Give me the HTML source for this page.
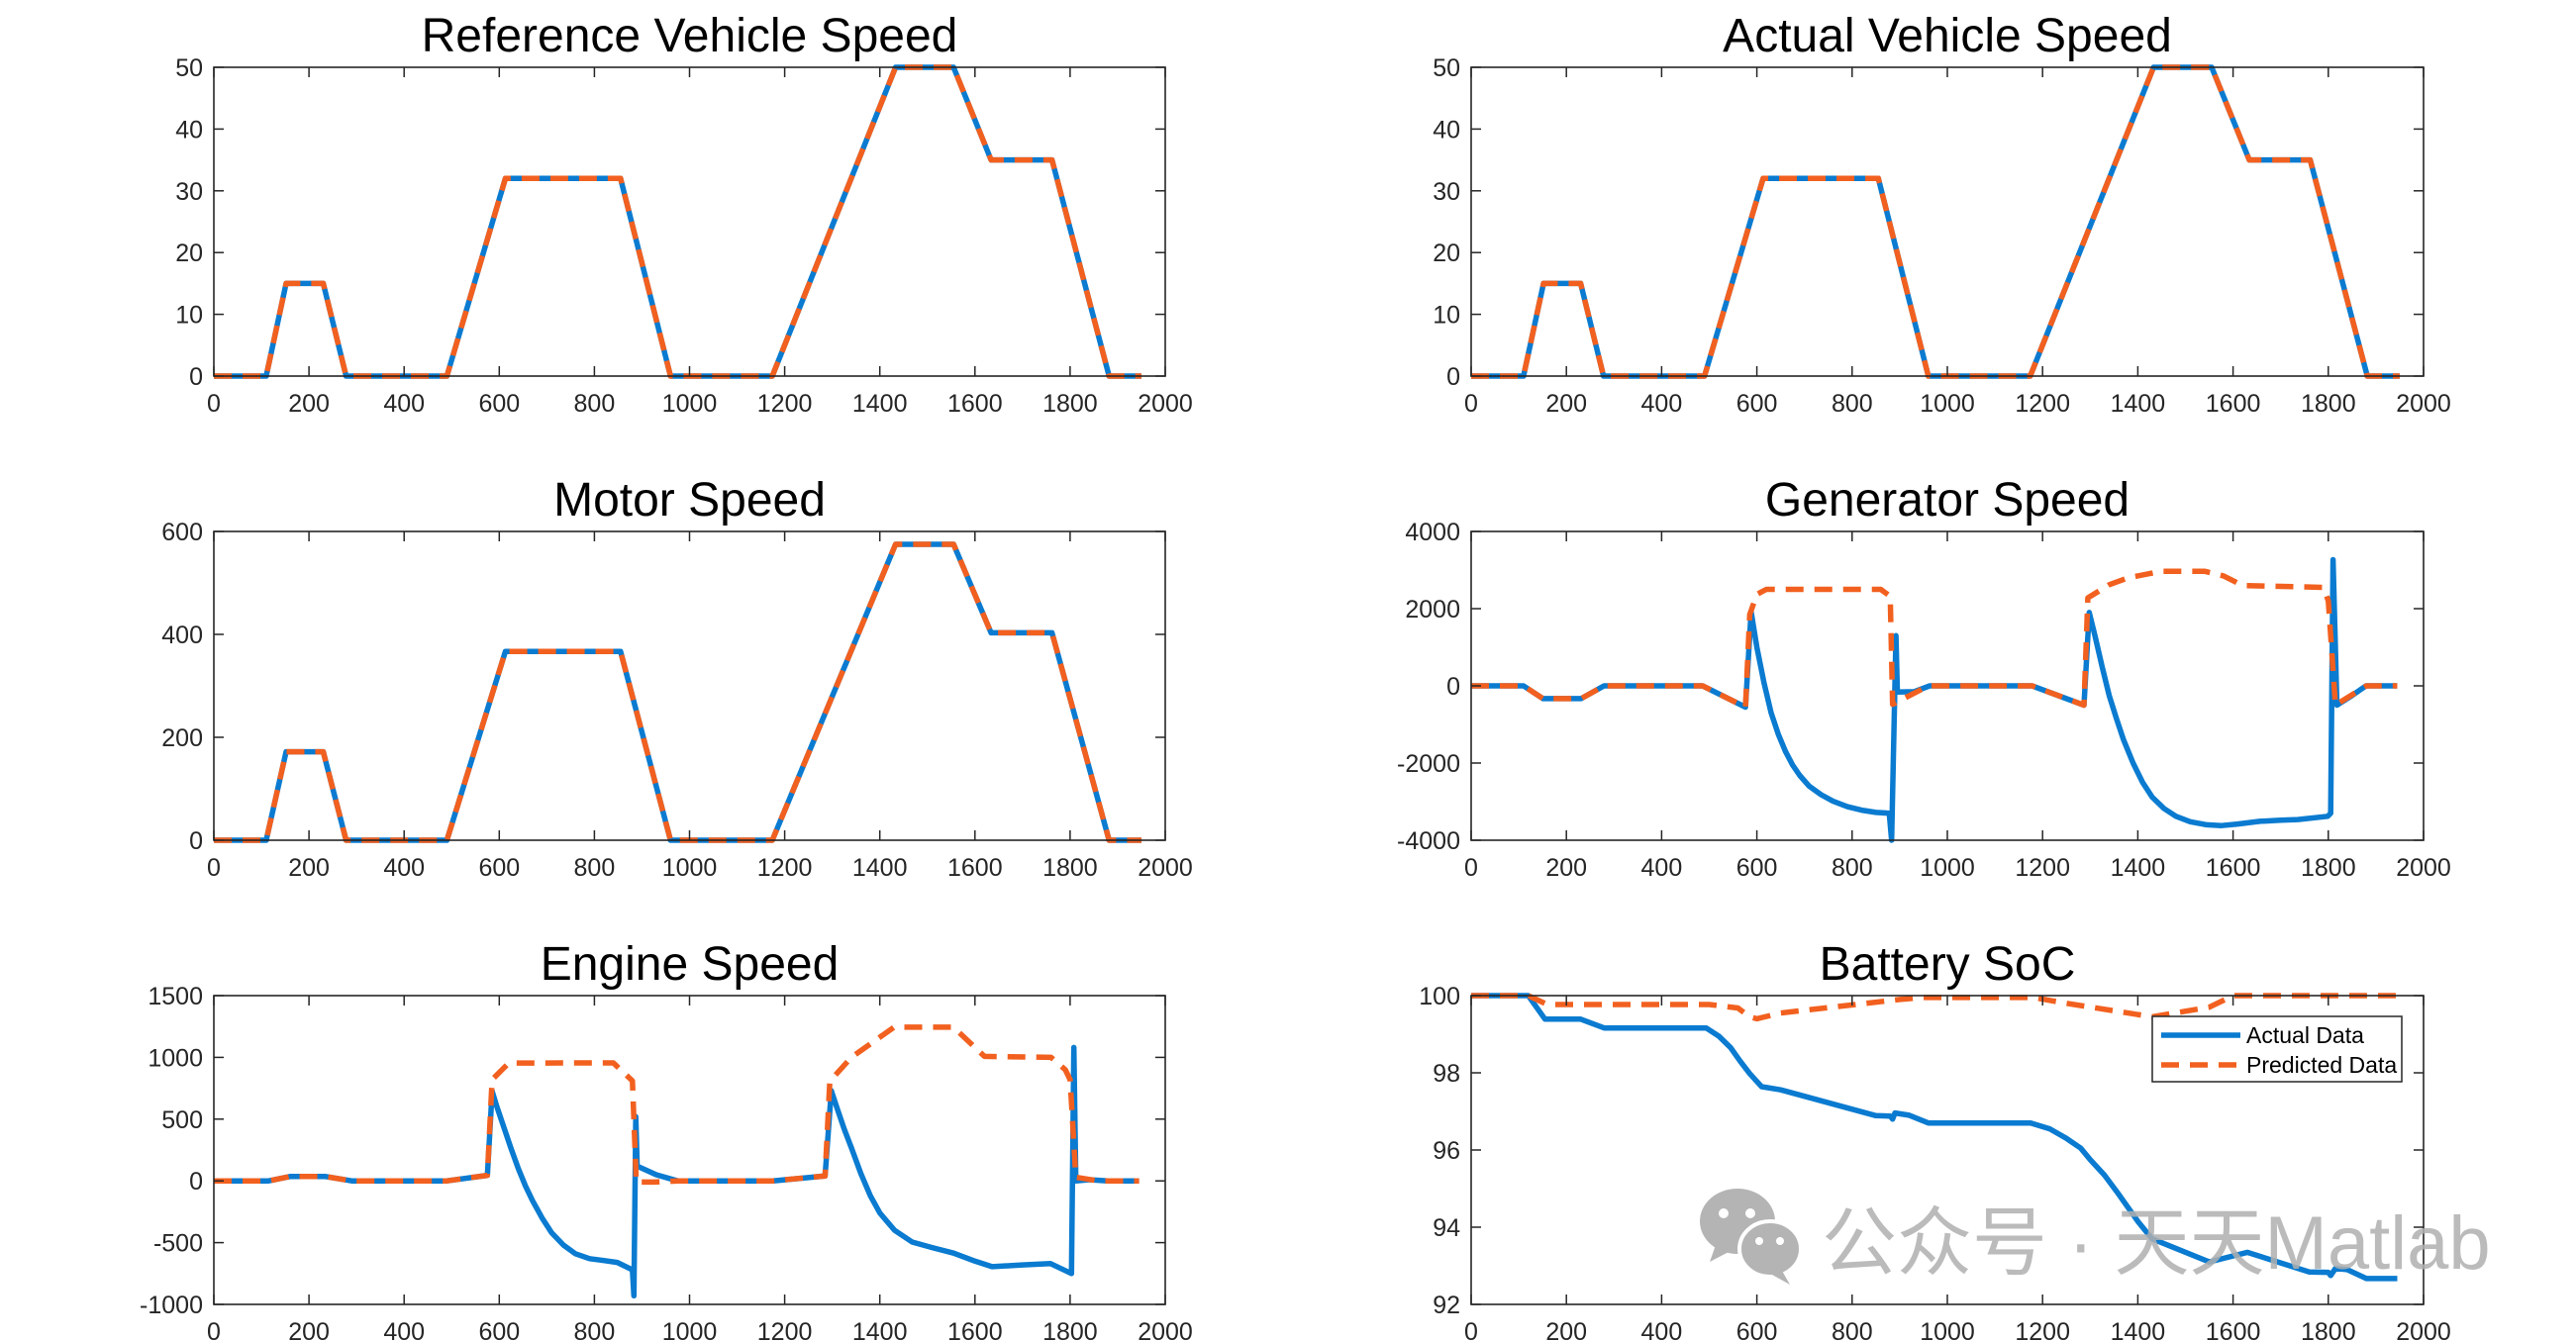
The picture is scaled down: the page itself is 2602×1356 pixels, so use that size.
<!DOCTYPE html>
<html><head><meta charset="utf-8"><style>
html,body{margin:0;padding:0;background:#fff;}
svg{display:block;}
text{font-family:"Liberation Sans",Arial,sans-serif;}
</style></head>
<body>
<svg id="fig" width="2602" height="1356" viewBox="0 0 2602 1356" xmlns="http://www.w3.org/2000/svg"></svg>
<script>
// ---- data ----
const speedT = [0,110,152,230,278,490,613,855,960,1174,1433,1555,1634,1762,1882,1950];
const refSpeed = [0,0,15,15,0,0,32,32,0,0,50,50,35,35,0,0];
const actSpeed = [0,0,15,15,0,0,32,32,0,0,50,50,35,35,0,0];
const motorSpeed = [0,0,172,172,0,0,367,367,0,0,575,575,403,403,0,0];

const genActT = [0,110,151,231,279,486,576,588,600,615,630,645,660,675,690,710,735,760,790,820,850,878,883,892,895,930,963,1178,1287,1298,1310,1325,1340,1355,1370,1390,1410,1430,1455,1480,1510,1545,1576,1610,1656,1700,1736,1799,1805,1810,1818,1850,1879,1945];
const genActV = [0,0,-330,-330,0,0,-550,1920,1000,80,-700,-1250,-1700,-2050,-2320,-2600,-2820,-2990,-3130,-3220,-3280,-3300,-4000,1300,-160,-150,0,0,-500,1900,1300,500,-250,-850,-1400,-2000,-2500,-2880,-3180,-3380,-3520,-3600,-3620,-3580,-3510,-3480,-3465,-3380,-3300,3270,-500,-250,0,0];
const genPredT = [0,110,151,231,279,486,576,585,600,620,860,880,885,960,1178,1287,1295,1340,1380,1450,1540,1580,1620,1790,1800,1815,1880,1945];
const genPredV = [0,0,-330,-330,0,0,-550,1850,2370,2500,2500,2320,-480,0,0,-500,2280,2620,2800,2970,2970,2850,2600,2550,2200,-500,0,0];

const engActT = [0,115,160,235,290,490,575,585,595,610,625,640,655,670,690,710,735,760,790,820,848,880,883,887,890,930,975,1175,1285,1298,1310,1325,1340,1360,1380,1400,1431,1468,1510,1555,1600,1636,1700,1759,1803,1808,1812,1840,1880,1945];
const engActV = [0,0,35,35,0,0,45,727,600,430,260,100,-40,-160,-300,-420,-520,-590,-630,-645,-660,-720,-930,520,120,50,0,0,40,730,590,420,270,60,-120,-260,-400,-495,-540,-585,-650,-695,-680,-670,-750,1080,0,10,0,0];
const engPredT = [0,115,160,235,290,490,575,585,620,840,880,888,925,975,1175,1285,1295,1340,1430,1555,1620,1760,1790,1800,1812,1860,1945];
const engPredV = [0,0,35,35,0,0,45,820,954,955,810,-10,-10,0,0,40,807,1000,1244,1244,1008,1000,900,820,30,0,0];

const socActT = [0,120,155,230,280,494,520,545,565,585,610,650,850,880,885,890,920,960,1175,1215,1250,1280,1300,1330,1360,1400,1430,1550,1630,1760,1800,1805,1815,1840,1880,1945];
const socActV = [100,100,99.39,99.39,99.16,99.16,98.95,98.65,98.3,97.98,97.64,97.56,96.89,96.88,96.8,96.96,96.9,96.7,96.7,96.55,96.3,96.05,95.75,95.35,94.85,94.15,93.7,93.1,93.35,92.84,92.83,92.75,92.93,92.9,92.67,92.67];
const socPredT = [0,120,160,500,560,585,600,650,900,950,1180,1250,1430,1550,1600,1945];
const socPredV = [100,100,99.77,99.77,99.68,99.45,99.4,99.55,99.9,99.95,99.95,99.8,99.45,99.7,100,100];

const xTicks = [0,200,400,600,800,1000,1200,1400,1600,1800,2000];
const speedTicks = [0,10,20,30,40,50];
const motorTicks = [0,200,400,600];
const genTicks = [-4000,-2000,0,2000,4000];
const engTicks = [-1000,-500,0,500,1000,1500];
const socTicks = [92,94,96,98,100];

const BLUE = "#0A7BD0", ORANGE = "#F2601F", AX = "#262626";
const svg = document.getElementById('fig');
const NS = "http://www.w3.org/2000/svg";
function mk(tag, attrs, parent){const e=document.createElementNS(NS,tag);for(const k in attrs)e.setAttribute(k,attrs[k]);(parent||svg).appendChild(e);return e;}

function panel(name, title, L, T, W, H, yMin, yMax, yTicks, series){
  const g = mk('g',{});
  
  
  const sx = v => L + (v/2000)*W;
  const sy = v => T + H - (v - yMin)/(yMax - yMin)*H;
  const bg = mk('rect',{x:L,y:T,width:W,height:H,fill:'#fff'},g);
  
  
  const tt = mk('text',{x:L+W/2,y:T-16,'font-size':48,'text-anchor':'middle',fill:'#000'},g);
  tt.textContent = title;
  
  
  const clip = 'clip-'+name;
  const cp = mk('clipPath',{id:clip},g); mk('rect',{x:L,y:T-3,width:W,height:H+6},cp);
  series.forEach(s=>{
    const d = s.t.map((t,i)=>(i?'L':'M')+sx(t).toFixed(1)+' '+sy(s.v[i]).toFixed(1)).join(' ');
    const p = mk('path',{d:d,fill:'none',stroke:s.c,'stroke-width':5.5,'stroke-linejoin':'round','clip-path':'url(#'+clip+')'},g);
    if(s.dash) p.setAttribute('stroke-dasharray', s.dash);
    
    
  });
  const box = mk('rect',{x:L,y:T,width:W,height:H,fill:'none',stroke:AX,'stroke-width':1.6},g);
  
  
  xTicks.forEach(v=>{
    const x = sx(v);
    mk('line',{x1:x,y1:T+H,x2:x,y2:T+H-10,stroke:AX,'stroke-width':1.5},g);
    mk('line',{x1:x,y1:T,x2:x,y2:T+10,stroke:AX,'stroke-width':1.5},g);
    const t = mk('text',{x:x,y:T+H+36,'font-size':25,'text-anchor':'middle',fill:AX},g);
    t.textContent = v;
    
    
  });
  yTicks.forEach(v=>{
    const y = sy(v);
    mk('line',{x1:L,y1:y,x2:L+10,y2:y,stroke:AX,'stroke-width':1.5},g);
    mk('line',{x1:L+W,y1:y,x2:L+W-10,y2:y,stroke:AX,'stroke-width':1.5},g);
    const t = mk('text',{x:L-11,y:y+9,'font-size':25,'text-anchor':'end',fill:AX},g);
    t.textContent = v;
    
    
  });
  return g;
}
const DASH = "18 11";
const LX = 216, RX = 1486, LW = 961, RW = 962, H = 312;
panel('reference-vehicle-speed-chart','Reference Vehicle Speed',LX,68,LW,H,0,50,speedTicks,[
  {t:speedT,v:refSpeed,c:BLUE,n:'actual-line'},{t:speedT,v:refSpeed,c:ORANGE,dash:DASH,n:'predicted-line'}]);
panel('actual-vehicle-speed-chart','Actual Vehicle Speed',RX,68,RW,H,0,50,speedTicks,[
  {t:speedT,v:actSpeed,c:BLUE,n:'actual-line'},{t:speedT,v:actSpeed,c:ORANGE,dash:DASH,n:'predicted-line'}]);
panel('motor-speed-chart','Motor Speed',LX,537,LW,H,0,600,motorTicks,[
  {t:speedT,v:motorSpeed,c:BLUE,n:'actual-line'},{t:speedT,v:motorSpeed,c:ORANGE,dash:DASH,n:'predicted-line'}]);
panel('generator-speed-chart','Generator Speed',RX,537,RW,H,-4000,4000,genTicks,[
  {t:genActT,v:genActV,c:BLUE,n:'actual-line'},{t:genPredT,v:genPredV,c:ORANGE,dash:DASH,n:'predicted-line'}]);
panel('engine-speed-chart','Engine Speed',LX,1006,LW,H,-1000,1500,engTicks,[
  {t:engActT,v:engActV,c:BLUE,n:'actual-line'},{t:engPredT,v:engPredV,c:ORANGE,dash:DASH,n:'predicted-line'}]);
panel('battery-soc-chart','Battery SoC',RX,1006,RW,H,92,100,socTicks,[
  {t:socActT,v:socActV,c:BLUE,n:'actual-line'},{t:socPredT,v:socPredV,c:ORANGE,dash:DASH,n:'predicted-line'}]);

// legend
const lg = mk('g',{});


mk('rect',{x:2174,y:1027,width:252,height:66,fill:'#fff',stroke:AX,'stroke-width':1.5},lg);
mk('line',{x1:2183,y1:1046,x2:2263,y2:1046,stroke:BLUE,'stroke-width':5.5},lg);
mk('line',{x1:2183,y1:1076,x2:2263,y2:1076,stroke:ORANGE,'stroke-width':5.5,'stroke-dasharray':DASH},lg);
const l1 = mk('text',{x:2269,y:1054,'font-size':23,fill:'#000'},lg); l1.textContent='Actual Data';


const l2 = mk('text',{x:2269,y:1084,'font-size':23,fill:'#000'},lg); l2.textContent='Predicted Data';



// watermark
const wm = mk('g',{opacity:0.85});


mk('ellipse',{cx:1755,cy:1234,rx:38,ry:33,fill:'#a8a8a8'},wm);
mk('path',{d:'M1733 1258 L1727 1275 L1748 1264 Z',fill:'#a8a8a8'},wm);
mk('circle',{cx:1741,cy:1226,r:5,fill:'#fff'},wm);
mk('circle',{cx:1768,cy:1226,r:5,fill:'#fff'},wm);
mk('ellipse',{cx:1788,cy:1262,rx:31,ry:28,fill:'#a8a8a8',stroke:'#fff','stroke-width':4},wm);
mk('path',{d:'M1800 1284 L1808 1298 L1790 1288 Z',fill:'#a8a8a8'},wm);
mk('circle',{cx:1777,cy:1254,r:4,fill:'#fff'},wm);
mk('circle',{cx:1798,cy:1254,r:4,fill:'#fff'},wm);
const wt = mk('text',{x:1840,y:1282,'font-size':76,fill:'#b0b0b0','font-family':'"Liberation Sans","Noto Sans CJK SC",sans-serif'},wm);
wt.textContent = '公众号 · 天天Matlab';


</script>
</body></html>
